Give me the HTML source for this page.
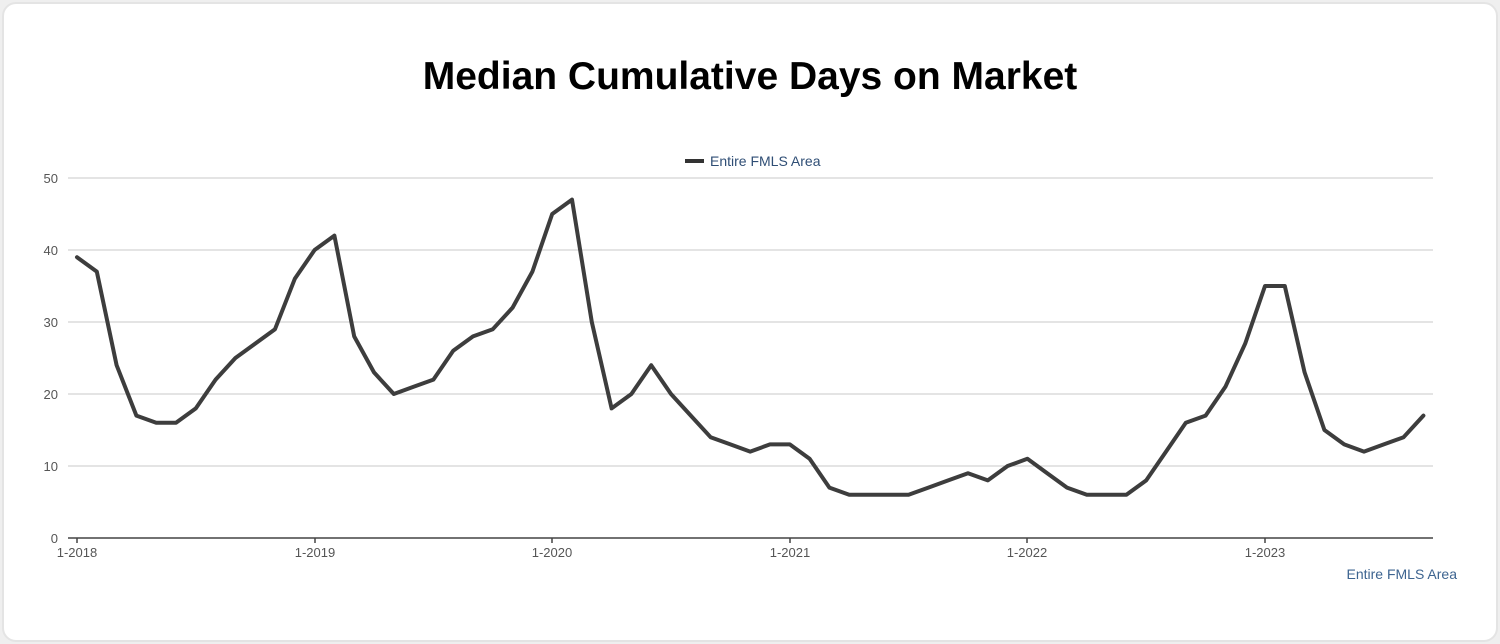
<!DOCTYPE html>
<html><head><meta charset="utf-8"><style>
html,body{margin:0;padding:0;background:#efefef;}
.card{position:absolute;left:2px;top:2px;width:1492px;height:636px;background:#fff;border:2px solid #e4e4e4;border-radius:14px;}
svg{position:absolute;left:0;top:0;}
</style></head><body>
<div class="card"></div>
<svg width="1500" height="644" xmlns="http://www.w3.org/2000/svg" font-family="Liberation Sans, Arial, sans-serif">
<text x="750" y="89" text-anchor="middle" font-size="39" font-weight="bold" fill="#000">Median Cumulative Days on Market</text>
<g stroke="#c8c8c8" stroke-width="1">
<line x1="68" x2="1433" y1="178" y2="178"/><line x1="68" x2="1433" y1="250" y2="250"/>
<line x1="68" x2="1433" y1="322" y2="322"/><line x1="68" x2="1433" y1="394" y2="394"/>
<line x1="68" x2="1433" y1="466" y2="466"/>
</g>
<line x1="68" x2="1433" y1="538" y2="538" stroke="#444" stroke-width="1.5"/>
<g stroke="#444" stroke-width="1.5">
<line x1="77" x2="77" y1="538" y2="543"/><line x1="315" x2="315" y1="538" y2="543"/>
<line x1="552" x2="552" y1="538" y2="543"/><line x1="790" x2="790" y1="538" y2="543"/>
<line x1="1027" x2="1027" y1="538" y2="543"/><line x1="1265" x2="1265" y1="538" y2="543"/>
</g>
<g font-size="13" fill="#555" text-anchor="end">
<text x="58" y="183">50</text><text x="58" y="255">40</text><text x="58" y="327">30</text>
<text x="58" y="399">20</text><text x="58" y="471">10</text><text x="58" y="543">0</text>
</g>
<g font-size="13" fill="#555" text-anchor="middle">
<text x="77" y="557">1-2018</text><text x="315" y="557">1-2019</text><text x="552" y="557">1-2020</text>
<text x="790" y="557">1-2021</text><text x="1027" y="557">1-2022</text><text x="1265" y="557">1-2023</text>
</g>
<line x1="685" x2="704" y1="161" y2="161" stroke="#333" stroke-width="4"/>
<text x="710" y="166" font-size="14" fill="#2f4e75">Entire FMLS Area</text>
<text x="1457" y="579" font-size="14" fill="#3d6490" text-anchor="end">Entire FMLS Area</text>
<polyline fill="none" stroke="#3d3d3d" stroke-width="4" stroke-linejoin="round" stroke-linecap="round" points="77,257.2 96.8,271.6 116.6,365.2 136.4,415.6 156.2,422.8 176,422.8 195.8,408.4 215.6,379.6 235.4,358 255.2,343.6 275,329.2 294.8,278.8 314.6,250 334.4,235.6 354.2,336.4 374,372.4 393.8,394 413.6,386.8 433.4,379.6 453.2,350.8 473,336.4 492.8,329.2 512.6,307.6 532.4,271.6 552.2,214 572,199.6 591.8,322 611.6,408.4 631.4,394 651.2,365.2 671,394 690.8,415.6 710.6,437.2 730.4,444.4 750.2,451.6 770,444.4 789.8,444.4 809.6,458.8 829.4,487.6 849.2,494.8 869,494.8 888.8,494.8 908.6,494.8 928.4,487.6 948.2,480.4 968,473.2 987.8,480.4 1007.6,466 1027.4,458.8 1047.2,473.2 1067,487.6 1086.8,494.8 1106.6,494.8 1126.4,494.8 1146.2,480.4 1166,451.6 1185.8,422.8 1205.6,415.6 1225.4,386.8 1245.2,343.6 1265,286 1284.8,286 1304.6,372.4 1324.4,430 1344.2,444.4 1364,451.6 1383.8,444.4 1403.6,437.2 1423.4,415.6"/>
</svg>
</body></html>
